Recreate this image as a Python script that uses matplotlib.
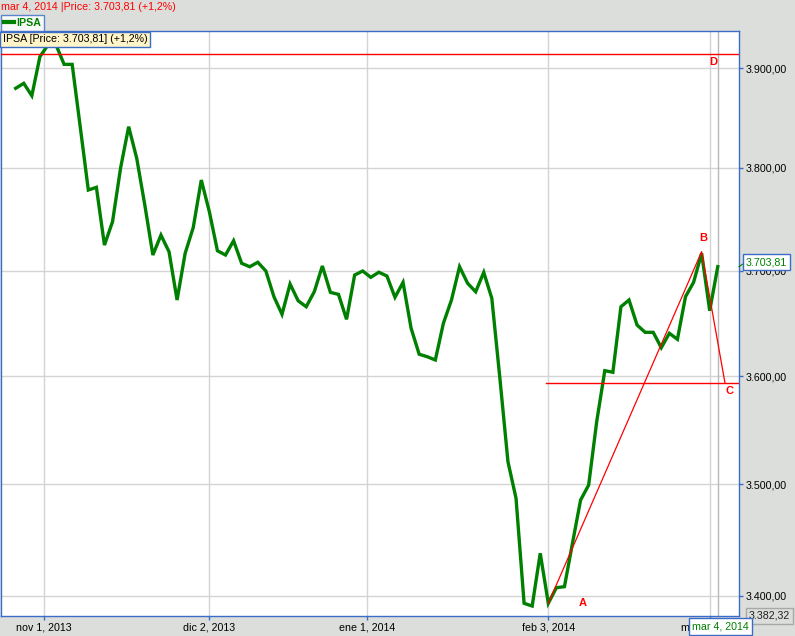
import numpy as np
import matplotlib
matplotlib.use("Agg")
import matplotlib.pyplot as plt
from matplotlib.transforms import blended_transform_factory

# IPSA closes, one per trading day (28 oct 2013 .. 4 mar 2014)
ipsa = [3879.5, 3884.5, 3872.0, 3911.5, 3923.4, 3923.4, 3903.7, 3903.7, 3840.7, 3778.3,
        3780.9, 3724.6, 3747.3, 3800.0, 3841.0, 3809.5, 3763.6, 3715.0, 3734.3, 3718.2,
        3671.8, 3716.7, 3741.6, 3788.1, 3757.0, 3719.1, 3715.0, 3728.8, 3707.0, 3703.7,
        3708.0, 3699.6, 3675.0, 3658.2, 3687.1, 3671.1, 3665.4, 3679.7, 3704.4, 3679.1,
        3677.2, 3653.4, 3695.7, 3699.6, 3693.5, 3698.4, 3694.8, 3674.4, 3688.7, 3644.9,
        3620.4, 3618.1, 3615.0, 3649.7, 3671.8, 3703.7, 3687.8, 3679.7, 3698.3, 3673.4,
        3597.8, 3520.7, 3487.4, 3393.5, 3391.1, 3437.9, 3393.5, 3407.3, 3408.2, 3447.1,
        3485.8, 3499.4, 3557.7, 3605.0, 3603.5, 3665.4, 3671.8, 3648.0, 3641.1, 3641.1,
        3626.6, 3640.2, 3634.5, 3675.0, 3688.7, 3716.7, 3661.6, 3703.81]
days = np.arange(len(ipsa))

xtick_pos = [3.5, 24, 43.5, 66, 86]
xtick_lab = ["nov 1, 2013", "dic 2, 2013", "ene 1, 2014", "feb 3, 2014", "mar 3, 2014"]
yticks = [3400, 3500, 3600, 3700, 3800, 3900]
ymin, ymax = 3382.32, 3937.7

# A-B-C-D drawing
abc_x = [66, 85.0, 87.9]
abc_y = [3393.5, 3718.2, 3593.2]
level_c = 3593.2
level_d = 3914.2

def fmt(v):
    s = "{:,.2f}".format(v)
    return s.replace(",", "X").replace(".", ",").replace("X", ".")

blue = "#3a6cc8"
grey_bg = "#dcdedb"
green = "#008000"

plt.rcParams["font.family"] = ["Liberation Sans", "DejaVu Sans"]
fig = plt.figure(figsize=(7.95, 6.36), dpi=100, facecolor=grey_bg)
W, H = 795.0, 636.0
ax = fig.add_axes([1 / W, 1 - 616 / H, 738 / W, 585 / H])
ax.set_facecolor("white")

ax.set_yscale("log")
ax.set_ylim(ymin, ymax)
ax.set_xlim(-1.82, 89.63)

for s in ax.spines.values():
    s.set_color(blue)
    s.set_linewidth(1)

ax.set_yticks(yticks)
ax.set_yticklabels([fmt(v) for v in yticks])
ax.yaxis.set_minor_locator(matplotlib.ticker.NullLocator())
ax.yaxis.tick_right()
ax.set_xticks(xtick_pos)
ax.set_xticklabels(xtick_lab)
ax.tick_params(axis="both", direction="out", length=3, width=1, color=blue,
               labelsize=7.7, pad=2)
ax.grid(True, color="#d4d4d4", linewidth=1)
ax.set_axisbelow(True)

# crosshair at last day
ax.axvline(days[-1], color="#b8b8b8", linewidth=1, zorder=1)

line, = ax.plot(days, ipsa, color=green, linewidth=2.4, zorder=3,
                solid_joinstyle="miter", label="IPSA")

# red study lines
ax.axhline(level_d, color="red", linewidth=1, zorder=4)
ax.plot([65.7, 89.63], [level_c, level_c], color="red", linewidth=1, zorder=4)
ax.plot(abc_x, abc_y, color="red", linewidth=0.9, zorder=4)
for lab, x, y in [("A", 70.3, 3393.5), ("B", 85.2, 3731.4), ("C", 88.5, 3586.0), ("D", 86.4, 3906.0)]:
    ax.text(x, y, lab, color="red", fontsize=8, fontweight="bold",
            ha="center", va="center", zorder=5)

# value boxes on the right and bottom
tr = blended_transform_factory(ax.transAxes, ax.transData)
ax.plot([1.0, 746 / 738 - 1 / 738], [ipsa[-1], ipsa[-1] * 1.0012], transform=tr,
        color=green, linewidth=0.8, clip_on=False, zorder=6)
ax.text(746 / 738 - 1 / 738, ipsa[-1] * 1.0012, fmt(ipsa[-1]), transform=tr, color=green,
        fontsize=7.7, ha="left", va="center", clip_on=False, zorder=6,
        bbox=dict(boxstyle="square,pad=0.3", fc="white", ec=blue, lw=1))
ax.text(749 / 738 - 1 / 738, ymin, fmt(ymin), transform=tr, color="#202020",
        fontsize=7.7, ha="left", va="center", clip_on=False, zorder=6,
        bbox=dict(boxstyle="square,pad=0.3", fc=grey_bg, ec="#a8a8a8", lw=1))
trx = blended_transform_factory(ax.transData, ax.transAxes)
ax.text(days[-1] + 0.3, -10.5 / 585, "mar 4, 2014", transform=trx, color=green,
        fontsize=7.7, ha="center", va="center", clip_on=False, zorder=6,
        bbox=dict(boxstyle="square,pad=0.3", fc="white", ec=blue, lw=1))

# header, legend and tooltip
fig.text(1 / W, 1 - 7 / H, "mar 4, 2014 |Price: " + fmt(ipsa[-1]) + " (+1,2%)",
         color="red", fontsize=7.7, ha="left", va="center")
leg = ax.legend(handles=[line], loc="lower left", bbox_to_anchor=(1 / W, 1 - 31 / H),
                bbox_transform=fig.transFigure, frameon=True, fancybox=False,
                handlelength=0.9, handletextpad=0.2, borderpad=0.3, borderaxespad=0,
                prop={"size": 7.7, "weight": "bold"})
leg.get_frame().set_edgecolor(blue)
leg.get_frame().set_linewidth(1)
leg.get_texts()[0].set_color(green)
leg.legend_handles[0].set_linewidth(3)
fig.text(3 / W, 1 - 39.5 / H, "IPSA [Price: " + fmt(ipsa[-1]) + "] (+1,2%)",
         color="black", fontsize=7.7, ha="left", va="center", zorder=7,
         bbox=dict(boxstyle="square,pad=0.25", fc="#fff5c8", ec=blue, lw=1))

fig.savefig("out.png", dpi=100, facecolor=grey_bg)
